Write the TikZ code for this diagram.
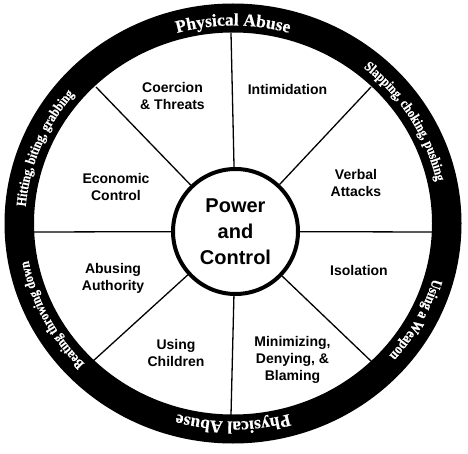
\documentclass[tikz,border=0pt]{standalone}
\usepackage{fontspec}
\setmainfont{Liberation Sans}
\newfontfamily\ringfont[BoldFeatures={FakeBold=0.5}]{Liberation Serif}
\newfontfamily\ringcond[FakeStretch=0.85, BoldFeatures={FakeBold=0.5}]{Liberation Serif}
\usetikzlibrary{decorations.text}
\begin{document}
\begin{tikzpicture}[x=1pt,y=1pt,
  lbl/.style={font=\fontsize{14}{17}\selectfont\bfseries, align=center, inner sep=0pt},
  spoke/.style={line width=1.3pt},
  hubstyle/.style={circle, draw, line width=4pt, fill=white, minimum size=125pt, inner sep=0pt,
    align=center, font=\fontsize{20}{26}\selectfont\bfseries},
  ringtext/.style={decorate, decoration={text along path, text align=center, text={#1}}},
]
\useasboundingbox (0,0) rectangle (468,453);
\fill[white] (0,0) rectangle (468,453);
\coordinate (rc) at (233,229.5);
% outer black ring
\fill[black, even odd rule] (rc) ellipse[x radius=228.5, y radius=220]
                            (rc) ellipse[x radius=199, y radius=191];
% hub
\node[hubstyle] (hub) at (235.5,221.5) {Power\\and\\Control};
% spoke ends on the ring
\coordinate (st) at (231,420);
\coordinate (sb) at (231,38);
\coordinate (sl) at (34,221);
\coordinate (sr) at (432,221);
\coordinate (sul) at (96,366);
\coordinate (sur) at (371,366);
\coordinate (slr) at (372,91);
\coordinate (sll) at (92,91);
\foreach \p in {st,sb,sl,sr,sul,sur,slr,sll}{\draw[spoke] (\p) -- (hub);}
% sector labels
\node[lbl] (coe) at (172.5,357) {Coercion\\\& Threats};
\node[lbl] (int) at (287.5,364) {Intimidation};
\node[lbl] (eco) at (116,266) {Economic\\Control};
\node[lbl] (ver) at (356,270) {Verbal\\Attacks};
\node[lbl] (abu) at (113,175) {Abusing\\Authority};
\node[lbl] (iso) at (359,183) {Isolation};
\node[lbl] (chi) at (176,100) {Using\\Children};
\node[lbl] (min) at (292.5,93) {Minimizing,\\Denying, \&\\Blaming};
% ring texts
\path[ringtext={|\ringfont\fontsize{17.5}{17.5}\selectfont\bfseries\color{white}|Physical Abuse}]
  (rc) ++(150:206 and 198) arc[start angle=150, end angle=30, x radius=206, y radius=198];
\path[ringtext={|\ringfont\fontsize{17.5}{17.5}\selectfont\bfseries\color{white}|Physical Abuse}]
  (rc) ++(330:206 and 198) arc[start angle=330, end angle=210, x radius=206, y radius=198];
\path[ringtext={|\ringcond\fontsize{14}{14}\selectfont\bfseries\color{white}|Slapping, choking, pushing}]
  (rc) ++(91:208 and 200) arc[start angle=91, end angle=-29, x radius=208, y radius=200];
\path[ringtext={|\ringcond\fontsize{15}{15}\selectfont\bfseries\color{white}|Using a Weapon}]
  (rc) ++(32:208 and 200) arc[start angle=32, end angle=-88, x radius=208, y radius=200];
\path[ringtext={|\ringcond\fontsize{14}{14}\selectfont\bfseries\color{white}|Beating throwing down}]
  (rc) ++(267:208 and 200) arc[start angle=267, end angle=147, x radius=208, y radius=200];
\path[ringtext={|\ringcond\fontsize{14}{14}\selectfont\bfseries\color{white}|Hitting, biting, grabbing}]
  (rc) ++(218:208 and 200) arc[start angle=218, end angle=98, x radius=208, y radius=200];
\end{tikzpicture}
\end{document}
